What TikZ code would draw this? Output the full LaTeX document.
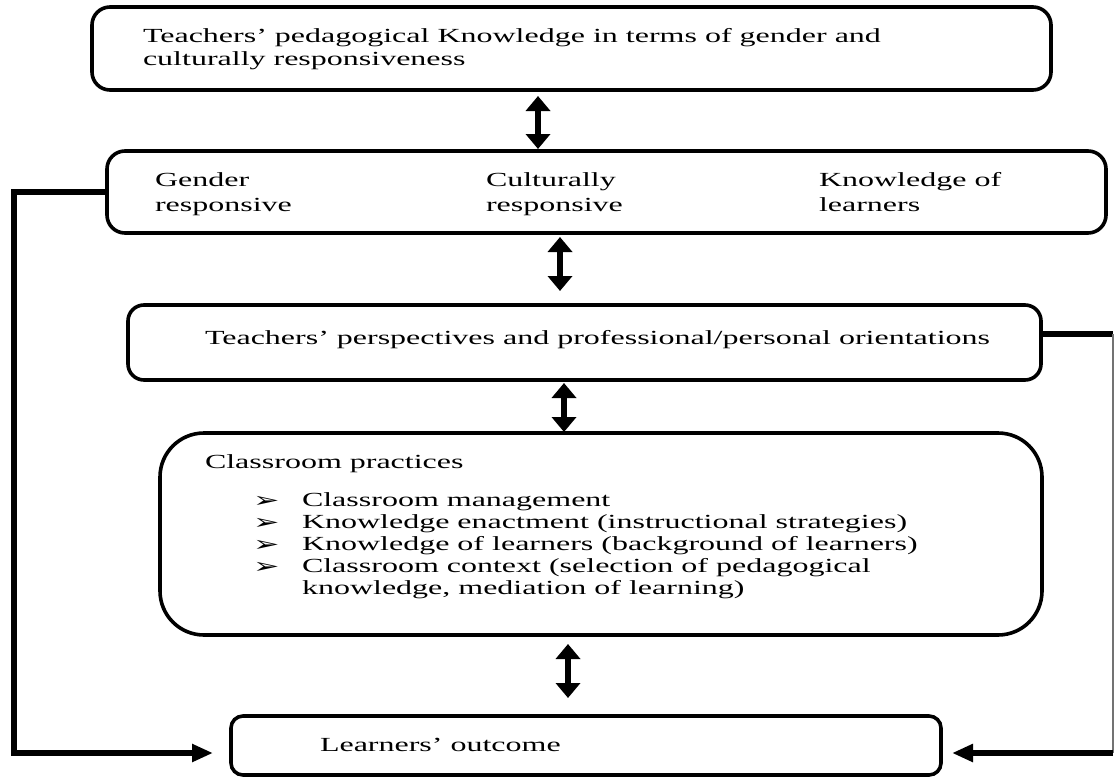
\documentclass[tikz,border=0pt]{standalone}
\usepackage{fontspec}
\setmainfont{Liberation Serif}[FakeStretch=1.6]
\newfontfamily\dingfont{DejaVu Sans}[FakeStretch=1.5]
\usetikzlibrary{arrows.meta,calc}

\tikzset{
  box/.style={draw=black, line width=3.6pt, rectangle, inner sep=0pt, outer sep=0pt, anchor=north west},
  txt/.style={anchor=base west, inner sep=0pt, outer sep=0pt, font=\fontsize{20}{24}\selectfont},
  bul/.style={anchor=base west, inner sep=0pt, outer sep=0pt, font=\dingfont\fontsize{21}{24}\selectfont},
  dbl/.style={line width=5.5pt, {Triangle[width=24pt,length=15pt]}-{Triangle[width=24pt,length=15pt]}},
  link/.style={line width=5.5pt, line join=miter},
  linkarrow/.style={link, -{Triangle[width=17pt,length=21pt]}},
  thinlink/.style={line width=1.8pt, draw=black!55}
}

\begin{document}
\begin{tikzpicture}[x=1pt, y=-1pt]
  \useasboundingbox (0,0) rectangle (1115,776);

  % boxes
  \node[box, rounded corners=18pt, minimum width=959pt, minimum height=83pt] (b1) at (92,7) {};
  \node[box, rounded corners=18pt, minimum width=999pt, minimum height=82pt] (b2) at (107,151) {};
  \node[box, rounded corners=16pt, minimum width=913pt, minimum height=75pt] (b3) at (128,305) {};
  \node[box, rounded corners=44pt, minimum width=882pt, minimum height=202pt] (b4) at (160,433) {};
  \node[box, rounded corners=12pt, minimum width=710pt, minimum height=59pt] (b5) at (231,716) {};

  % texts
  \node[txt] (t1a) at (143,42) {Teachers’ pedagogical Knowledge in terms of gender and};
  \node[txt] (t1b) at (143,66) {culturally responsiveness};

  \node[txt] (g1) at (155,186) {Gender};
  \node[txt] (g2) at (155,211) {responsive};
  \node[txt] (c1) at (486,186) {Culturally};
  \node[txt] (c2) at (486,211) {responsive};
  \node[txt] (k1) at (819,186) {Knowledge of};
  \node[txt] (k2) at (819,211) {learners};

  \node[txt] (t3) at (205,344) {Teachers’ perspectives and professional/personal orientations};

  \node[txt] (cp) at (205,468) {Classroom practices};
  \node[bul] (m1) at (253,507) {➢};
  \node[txt] (l1) at (302,506) {Classroom management};
  \node[bul] (m2) at (253,529) {➢};
  \node[txt] (l2) at (302,528) {Knowledge enactment (instructional strategies)};
  \node[bul] (m3) at (253,551) {➢};
  \node[txt] (l3) at (302,550) {Knowledge of learners (background of learners)};
  \node[bul] (m4) at (253,573) {➢};
  \node[txt] (l4) at (302,572) {Classroom context (selection of pedagogical};
  \node[txt] (l5) at (302,594) {knowledge, mediation of learning)};

  \node[txt] (t5) at (320,751) {Learners’ outcome};

  % two-way arrows between the stages
  \draw[dbl, shorten <=6pt, shorten >=2pt] ([xshift=-33.5pt]b1.south) -- ([xshift=-33.5pt]b1.south |- b2.north);
  \draw[dbl, shorten <=4pt, shorten >=14pt] ([xshift=-46.5pt]b2.south) -- ([xshift=-46.5pt]b2.south |- b3.north);
  \draw[dbl, shorten <=3pt, shorten >=1pt] ([xshift=-20.5pt]b3.south) -- ([xshift=-20.5pt]b3.south |- b4.north);
  \draw[dbl, shorten <=9pt, shorten >=18pt] ([xshift=-33pt]b4.south) -- ([xshift=-33pt]b4.south |- b5.north);

  % feedback on the left
  \coordinate (lt) at ([xshift=-18pt,yshift=-7.5pt]b5.west);
  \draw[linkarrow] (b2.west) -- ++(-93,0) |- (lt);

  % feedback on the right
  \coordinate (rc1) at (1113,334);
  \coordinate (rc2) at (1113,753);
  \coordinate (rt) at ([xshift=11pt,yshift=-7.5pt]b5.east);
  \draw[link] ([yshift=8.5pt]b3.east) -- (rc1);
  \draw[thinlink] (rc1) -- (rc2);
  \draw[linkarrow] (rc2) -- (rt);
\end{tikzpicture}
\end{document}
